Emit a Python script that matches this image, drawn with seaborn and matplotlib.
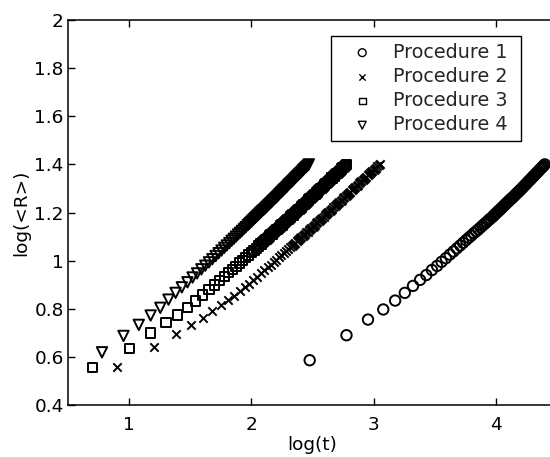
import matplotlib
matplotlib.use("Agg")
import matplotlib.pyplot as plt
import seaborn as sns
import pandas as pd

# ---- data (log10 t, log10 <R>) ----
p1_x = [2.477, 2.778, 2.954, 3.079, 3.176, 3.255, 3.322, 3.380, 3.431, 3.477, 3.519,
        3.556, 3.591, 3.623, 3.653, 3.681, 3.708, 3.732, 3.756, 3.778, 3.799, 3.820,
        3.839, 3.857, 3.875, 3.892, 3.908, 3.924, 3.940, 3.954,
        3.97, 3.98, 3.99, 4.00, 4.01, 4.02, 4.03, 4.04, 4.05, 4.06, 4.07, 4.08, 4.09,
        4.10, 4.11, 4.12, 4.13, 4.14, 4.15, 4.16, 4.17, 4.18, 4.19, 4.20, 4.21, 4.22,
        4.23, 4.24, 4.25, 4.26, 4.27, 4.28, 4.29, 4.30, 4.31, 4.32, 4.33, 4.34, 4.35,
        4.36, 4.37, 4.38, 4.39, 4.40]
p1_y = [0.586, 0.690, 0.755, 0.797, 0.834, 0.866, 0.895, 0.920, 0.940, 0.961, 0.978,
        0.995, 1.010, 1.025, 1.038, 1.051, 1.063, 1.074, 1.085, 1.095, 1.104, 1.114,
        1.122, 1.130, 1.138, 1.146, 1.153, 1.160, 1.168, 1.174,
        1.181, 1.186, 1.191, 1.196, 1.201, 1.206, 1.210, 1.215, 1.220, 1.225, 1.230,
        1.235, 1.240, 1.245, 1.250, 1.255, 1.259, 1.264, 1.269, 1.274, 1.279, 1.284,
        1.289, 1.294, 1.299, 1.304, 1.310, 1.315, 1.320, 1.326, 1.331, 1.336, 1.341,
        1.347, 1.352, 1.357, 1.363, 1.368, 1.373, 1.379, 1.384, 1.389, 1.394, 1.400]

p2_x = [0.903, 1.204, 1.380, 1.505, 1.602, 1.681, 1.748, 1.806, 1.857, 1.903, 1.944,
        1.982, 2.017, 2.049, 2.079, 2.107, 2.134, 2.158, 2.182, 2.204, 2.225, 2.246,
        2.265, 2.283, 2.301,
        2.32, 2.33, 2.34, 2.35, 2.36, 2.37, 2.38, 2.39, 2.40, 2.41, 2.42, 2.43, 2.44,
        2.45, 2.46, 2.47, 2.48, 2.49, 2.50, 2.51, 2.52, 2.53, 2.54, 2.55, 2.56, 2.57,
        2.58, 2.59, 2.60, 2.61, 2.62, 2.63, 2.64, 2.65, 2.66, 2.67, 2.68, 2.69, 2.70,
        2.71, 2.72, 2.73, 2.74, 2.75, 2.76, 2.77, 2.78, 2.79, 2.80, 2.81, 2.82, 2.83,
        2.84, 2.85, 2.86, 2.87, 2.88, 2.89, 2.90, 2.91, 2.92, 2.93, 2.94, 2.95, 2.96,
        2.97, 2.98, 2.99, 3.00, 3.01, 3.02, 3.03, 3.04, 3.05]
p2_y = [0.560, 0.639, 0.694, 0.733, 0.763, 0.790, 0.815, 0.835, 0.855, 0.873, 0.889,
        0.904, 0.919, 0.933, 0.947, 0.960, 0.972, 0.983, 0.994, 1.004, 1.013, 1.023,
        1.032, 1.040, 1.048,
        1.057, 1.061, 1.066, 1.070, 1.075, 1.080, 1.084, 1.089, 1.093, 1.098, 1.103,
        1.107, 1.112, 1.117, 1.121, 1.126, 1.131, 1.136, 1.140, 1.145, 1.150, 1.155,
        1.159, 1.164, 1.169, 1.174, 1.178, 1.183, 1.188, 1.193, 1.197, 1.202, 1.207,
        1.212, 1.216, 1.221, 1.226, 1.231, 1.235, 1.240, 1.245, 1.249, 1.254, 1.259,
        1.264, 1.268, 1.273, 1.278, 1.283, 1.287, 1.292, 1.297, 1.302, 1.306, 1.311,
        1.316, 1.321, 1.325, 1.330, 1.335, 1.340, 1.344, 1.349, 1.354, 1.358, 1.363,
        1.368, 1.373, 1.377, 1.382, 1.387, 1.392, 1.396, 1.401]

p3_x = [0.699, 1.000, 1.176, 1.301, 1.398, 1.477, 1.544, 1.602, 1.653, 1.699, 1.740,
        1.778, 1.813, 1.845, 1.875, 1.903, 1.929, 1.954, 1.978, 2.000, 2.021, 2.041,
        2.061, 2.079,
        2.09, 2.10, 2.11, 2.12, 2.13, 2.14, 2.15, 2.16, 2.17, 2.18, 2.19, 2.20, 2.21,
        2.22, 2.23, 2.24, 2.25, 2.26, 2.27, 2.28, 2.29, 2.30, 2.31, 2.32, 2.33, 2.34,
        2.35, 2.36, 2.37, 2.38, 2.39, 2.40, 2.41, 2.42, 2.43, 2.44, 2.45, 2.46, 2.47,
        2.48, 2.49, 2.50, 2.51, 2.52, 2.53, 2.54, 2.55, 2.56, 2.57, 2.58, 2.59, 2.60,
        2.61, 2.62, 2.63, 2.64, 2.65, 2.66, 2.67, 2.68, 2.69, 2.70, 2.71, 2.72, 2.73,
        2.74, 2.75, 2.76, 2.77, 2.78]
p3_y = [0.557, 0.636, 0.699, 0.743, 0.774, 0.804, 0.832, 0.857, 0.879, 0.899, 0.917,
        0.934, 0.950, 0.964, 0.977, 0.990, 1.001, 1.012, 1.023, 1.033, 1.043, 1.052,
        1.061, 1.069,
        1.074, 1.079, 1.083, 1.088, 1.093, 1.097, 1.102, 1.107, 1.111, 1.116, 1.121,
        1.125, 1.130, 1.135, 1.139, 1.144, 1.148, 1.153, 1.158, 1.162, 1.167, 1.172,
        1.176, 1.181, 1.186, 1.190, 1.195, 1.200, 1.204, 1.209, 1.214, 1.218, 1.223,
        1.228, 1.233, 1.237, 1.242, 1.247, 1.252, 1.257, 1.261, 1.266, 1.271, 1.276,
        1.281, 1.285, 1.290, 1.295, 1.300, 1.304, 1.309, 1.314, 1.319, 1.324, 1.328,
        1.333, 1.338, 1.343, 1.348, 1.352, 1.357, 1.362, 1.367, 1.372, 1.376, 1.381,
        1.386, 1.391, 1.395, 1.400]

p4_x = [0.778, 0.954, 1.079, 1.176, 1.255, 1.322, 1.380, 1.431, 1.477, 1.519, 1.556,
        1.591, 1.623, 1.653, 1.681, 1.708, 1.732, 1.756, 1.778, 1.799, 1.820, 1.839,
        1.857, 1.875, 1.892, 1.908, 1.924, 1.940, 1.954,
        1.97, 1.98, 1.99, 2.00, 2.01, 2.02, 2.03, 2.04, 2.05, 2.06, 2.07, 2.08, 2.09,
        2.10, 2.11, 2.12, 2.13, 2.14, 2.15, 2.16, 2.17, 2.18, 2.19, 2.20, 2.21, 2.22,
        2.23, 2.24, 2.25, 2.26, 2.27, 2.28, 2.29, 2.30, 2.31, 2.32, 2.33, 2.34, 2.35,
        2.36, 2.37, 2.38, 2.39, 2.40, 2.41, 2.42, 2.43, 2.44, 2.45, 2.46, 2.47]
p4_y = [0.619, 0.687, 0.733, 0.772, 0.804, 0.838, 0.866, 0.889, 0.910, 0.930, 0.947,
        0.964, 0.979, 0.993, 1.006, 1.019, 1.031, 1.042, 1.053, 1.063, 1.073, 1.083,
        1.091, 1.100, 1.109, 1.116, 1.124, 1.132, 1.139,
        1.147, 1.152, 1.157, 1.162, 1.167, 1.172, 1.177, 1.182, 1.187, 1.192, 1.197,
        1.202, 1.207, 1.211, 1.216, 1.221, 1.226, 1.231, 1.236, 1.241, 1.246, 1.251,
        1.256, 1.261, 1.266, 1.271, 1.277, 1.282, 1.287, 1.292, 1.297, 1.302, 1.307,
        1.313, 1.318, 1.323, 1.328, 1.333, 1.338, 1.344, 1.349, 1.354, 1.359, 1.364,
        1.369, 1.375, 1.380, 1.385, 1.390, 1.395, 1.400]

labels = ["Procedure 1", "Procedure 2", "Procedure 3", "Procedure 4"]
xticks = [1, 2, 3, 4]
yticks = [0.4, 0.6, 0.8, 1.0, 1.2, 1.4, 1.6, 1.8, 2.0]
ytick_labels = ["0.4", "0.6", "0.8", "1", "1.2", "1.4", "1.6", "1.8", "2"]

sns.set_theme(style="ticks")
plt.rcParams["font.family"] = ["DejaVu Sans"]

fig = plt.figure(figsize=(5.5, 4.57), dpi=100)
# right limit (4.5) falls just outside the image, as in the reference
ax = fig.add_axes([68 / 550, 52 / 457, 489 / 550, 385 / 457])

series = [
    (p1_x, p1_y, "o", 56),
    (p2_x, p2_y, "x", 36),
    (p3_x, p3_y, "s", 44),
    (p4_x, p4_y, "v", 56),
]
for (xs, ys, mk, sz), lab in zip(series, labels):
    df = pd.DataFrame({"log_t": xs, "log_R": ys})
    if mk == "x":
        sns.scatterplot(data=df, x="log_t", y="log_R", marker=mk, s=sz,
                        color="black", linewidth=1.4, ax=ax, label=lab + " ")
    else:
        sns.scatterplot(data=df, x="log_t", y="log_R", marker=mk, s=sz,
                        facecolor="none", edgecolor="black", linewidth=1.4,
                        ax=ax, label=lab + " ")

ax.set_xlim(0.5, 4.5)
ax.set_ylim(0.4, 2.0)
ax.set_xticks(xticks)
ax.set_xticklabels([str(t) for t in xticks])
ax.set_yticks(yticks)
ax.set_yticklabels(ytick_labels)
ax.tick_params(direction="in", length=5, width=1, labelsize=13.3, colors="black",
               top=True, right=True)
ax.tick_params(axis="x", pad=8)
ax.tick_params(axis="y", pad=3)
for sp in ax.spines.values():
    sp.set_color("black")
    sp.set_linewidth(1.1)
ax.set_xlabel("log(t)", fontsize=13.3, color="black", labelpad=1)
ax.set_ylabel("log(<R>)", fontsize=13.3, color="black", labelpad=3)

leg = ax.legend(loc="upper left", bbox_to_anchor=(263 / 489, 1 - 16 / 385),
                borderaxespad=0, frameon=True, fancybox=False, edgecolor="black",
                fontsize=13.8, handletextpad=0.33, borderpad=0.35,
                labelspacing=0.27, handlelength=2.56, markerscale=0.75)
leg.get_frame().set_linewidth(1.0)
leg.get_frame().set_alpha(1)
for h in leg.legend_handles:
    h.set_linewidth(1.0)

fig.savefig("out.png", dpi=100, facecolor="white")
